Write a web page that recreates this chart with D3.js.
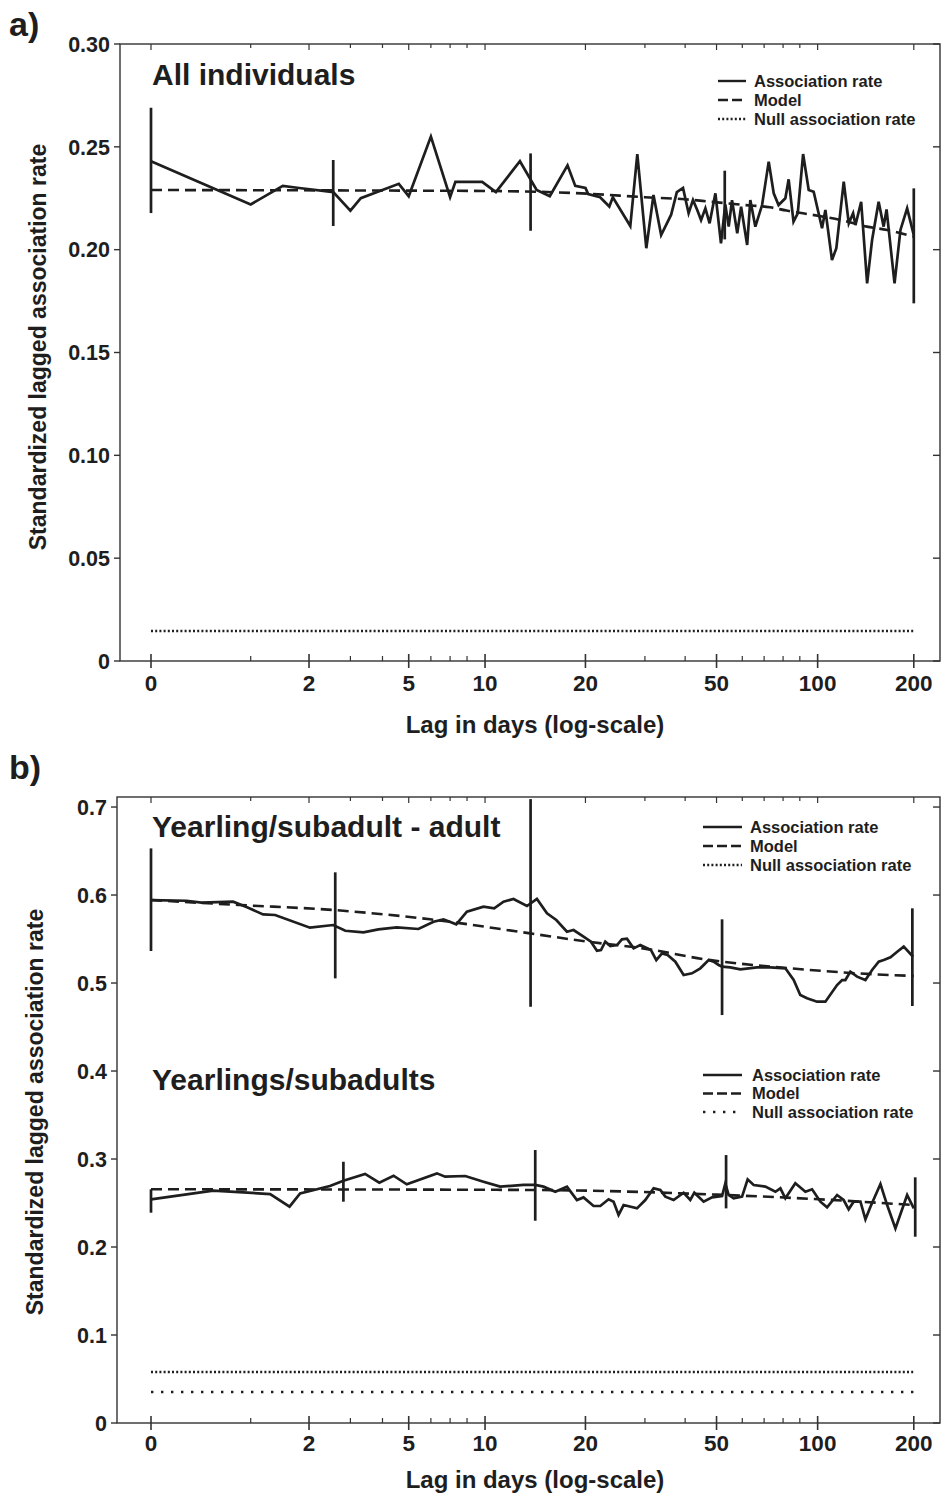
<!DOCTYPE html>
<html><head><meta charset="utf-8">
<script src="https://cdn.jsdelivr.net/npm/d3@7"></script>
<style>
body{margin:0;background:#fff}
svg{display:block}
text{font-family:'Liberation Sans',Arial,sans-serif;font-weight:bold;fill:#1e1e1e}
</style>
</head><body>
<svg id="c" width="942" height="1496"></svg>
<script>
// ---------- x axis (lag in days, log-scale) ----------
const xTickLabels = ["0","2","5","10","20","50","100","200"];
const xTickLags   = [0, 2, 5, 9.2, 19.5, 50, 102, 200];
const xMinorLags  = [1, 3, 4, 6, 7, 8, 30, 40, 60, 70, 80, 90];

// ---------- panel a: All individuals ----------
const allLag = [0,1,1.5,1.8,2.55,3,3.3,4.6,5,6,7,7.3,9,10,12,13.6,15,17.1,18.1,19.5,19.9,21.7,23.2,23.8,27,28.4,30.3,31.9,33.7,36.2,37.7,39.4,41,42.3,43.6,44.8,46.2,47.6,49.6,51.6,53.2,54.5,55.8,57.9,59.5,62.1,63.5,65.8,69,72.3,74.9,77.5,81.3,83.2,86.1,88.7,92.1,95.8,99.2,105.2,107.7,112.8,116.3,122.5,126.9,130.8,133,138.4,144.3,149.4,156.4,162,165.3,174.8,182.2,190.9,200];
const allRate = [0.243,0.222,0.231,0.230,0.228,0.219,0.225,0.232,0.226,0.255,0.2255,0.233,0.233,0.228,0.243,0.229,0.226,0.241,0.231,0.230,0.227,0.2255,0.221,0.2255,0.2115,0.2465,0.2007,0.2266,0.2071,0.217,0.228,0.230,0.2177,0.2241,0.2193,0.2144,0.2201,0.2128,0.2274,0.2031,0.222,0.2112,0.2241,0.2080,0.2209,0.2023,0.2241,0.2112,0.2217,0.2428,0.2274,0.2217,0.2250,0.2342,0.2136,0.2177,0.2465,0.2290,0.2282,0.2104,0.2193,0.1950,0.2007,0.2331,0.2128,0.2177,0.2120,0.2233,0.1836,0.2047,0.2233,0.2112,0.2196,0.1836,0.2096,0.2201,0.2071];
const allModelLag  = [0,5,10,20,30,40,48,61,73,82,92,120,144,166,200];
const allModelRate = [0.229,0.2287,0.2285,0.2272,0.2255,0.2245,0.2233,0.2217,0.2206,0.2190,0.2177,0.2144,0.2112,0.2096,0.2063];
const allErrLag  = [0,2.55,13,53,200];
const allErrLow  = [0.2178,0.2115,0.2092,0.2050,0.1739];
const allErrHigh = [0.269,0.2436,0.2468,0.2384,0.2298];
const allNull = 0.0146;

// ---------- panel b: Yearling/subadult - adult ----------
const upLag = [0,0.28,0.42,0.77,0.95,1.18,1.37,2.02,2.55,2.86,3.38,3.86,4.52,5.42,6.13,6.64,7.35,7.99,9.09,9.87,10.6,11.43,12.65,13.63,14.69,15.74,17.03,17.87,19.23,20.3,21.21,21.84,22.53,23.37,24.53,25.42,26.36,27.65,29.02,31.33,32.55,33.91,35.29,37.3,39.57,42.0,44.57,47.28,48.99,50.76,52.0,55.14,59.19,66.6,73.15,81.3,86.2,90.3,94.7,101.6,107.7,116.9,121.1,123.9,128.3,134.5,142.6,149.4,156.5,162.1,169.9,178.1,186.4,199];
const upRate = [0.5943,0.5935,0.5913,0.5924,0.5860,0.5780,0.5773,0.5629,0.5659,0.5594,0.5576,0.5610,0.5633,0.5614,0.5697,0.5724,0.5667,0.5810,0.5867,0.5848,0.5924,0.5955,0.5875,0.5955,0.5792,0.5716,0.5583,0.5602,0.5526,0.5470,0.5367,0.5375,0.5470,0.5420,0.5432,0.5497,0.5503,0.5394,0.5432,0.5375,0.5261,0.5337,0.5318,0.5242,0.5091,0.5110,0.5167,0.5261,0.5242,0.5205,0.5186,0.5178,0.5155,0.5178,0.5178,0.5167,0.5034,0.4864,0.4826,0.4788,0.4788,0.4977,0.5034,0.5034,0.5129,0.5072,0.5034,0.5148,0.5242,0.5261,0.5292,0.5356,0.5413,0.5299];
const upModelLag  = [0,0.86,2.55,5.96,12.96,19.8,29.6,47.9,52.4,84.2,134.8,200];
const upModelRate = [0.5943,0.5886,0.5830,0.5724,0.5564,0.547,0.5394,0.526,0.5242,0.5167,0.511,0.508];
const upErrLag  = [0,2.6,13,52,198];
const upErrLow  = [0.5364,0.5053,0.473,0.4636,0.4739];
const upErrHigh = [0.653,0.6258,0.709,0.5724,0.5849];
const upNull = 0.058;

// ---------- panel b: Yearlings/subadults ----------
const loLag = [0,0.54,1.29,1.62,1.82,2.47,2.81,3.43,3.89,4.40,4.92,6.30,6.73,7.89,9.09,10.33,12.33,13.46,14.32,15.62,17.03,18.32,19.23,20.69,21.73,23.08,23.93,24.81,25.73,28.34,30.08,31.93,33.5,34.73,36.84,39.57,41.5,42.7,45.63,48.43,52.0,53.22,54.48,56.44,59.9,62.32,65.02,70.6,75.8,78.5,81.3,87.2,93.6,98.1,104,109,116.9,122.4,126.8,131.3,137.7,142.6,147.7,158.4,166,175.9,190.9,200];
const loRate = [0.2542,0.264,0.2602,0.2458,0.261,0.2693,0.2753,0.2830,0.2731,0.2810,0.2712,0.2837,0.2799,0.2807,0.2742,0.2686,0.2705,0.2705,0.2686,0.2628,0.2686,0.2534,0.2564,0.2466,0.2466,0.2542,0.2515,0.2364,0.2477,0.2439,0.2534,0.2667,0.2648,0.2572,0.2534,0.2617,0.2534,0.2617,0.2515,0.2564,0.2580,0.2724,0.2591,0.2553,0.2572,0.2769,0.2705,0.2686,0.2628,0.2667,0.2553,0.2724,0.2628,0.2656,0.2515,0.2451,0.2591,0.2534,0.2428,0.2515,0.2515,0.2315,0.2458,0.2716,0.2477,0.2212,0.2591,0.2439];
const loModelLag  = [0,10,20,50,100,200];
const loModelRate = [0.2656,0.265,0.264,0.2595,0.2545,0.2477];
const loErrLag  = [0,2.81,13.46,53.5,202];
const loErrLow  = [0.239,0.2515,0.2299,0.2439,0.2117];
const loErrHigh = [0.2656,0.2969,0.3102,0.3045,0.2792];
const loNull = 0.0352;

const aTicks = [0,0.05,0.10,0.15,0.20,0.25,0.30];
const bTicks = [0,0.1,0.2,0.3,0.4,0.5,0.6,0.7];
const legendLabels = ["Association rate","Model","Null association rate"];

// ---------- drawing ----------
const svg = d3.select('#c');
const INK = '#1e1e1e';
const x = d3.scaleSymlog().constant(1).domain([0,200]).range([151, 913.8]);
const zip = (a,b) => a.map((d,i)=>[d,b[i]]);

function drawPanel(p){
  const y = d3.scaleLinear().domain(p.yDomain).range([p.bottom, p.top]);
  const g = svg.append('g');
  g.append('rect').attr('x',p.left).attr('y',p.top).attr('width',p.right-p.left).attr('height',p.bottom-p.top)
    .attr('fill','none').attr('stroke','#333').attr('stroke-width',1.4);
  p.yTicks.forEach(t=>{
    g.append('line').attr('x1',p.left-6).attr('x2',p.left).attr('y1',y(t)).attr('y2',y(t)).attr('stroke','#333').attr('stroke-width',1.4);
    g.append('line').attr('x1',p.right-7).attr('x2',p.right).attr('y1',y(t)).attr('y2',y(t)).attr('stroke','#333').attr('stroke-width',1.4);
    g.append('text').attr('x',p.left-10).attr('y',y(t)).attr('dy','0.36em')
      .attr('text-anchor','end').attr('font-size',21.5).text(t===0?'0':p.fmt(t));
  });
  xTickLags.forEach((t,i)=>{
    const xx = x(t);
    g.append('line').attr('x1',xx).attr('x2',xx).attr('y1',p.bottom-7).attr('y2',p.bottom+7).attr('stroke','#333').attr('stroke-width',1.6);
    g.append('line').attr('x1',xx).attr('x2',xx).attr('y1',p.top).attr('y2',p.top+6).attr('stroke','#333').attr('stroke-width',1.2);
    g.append('text').attr('x',xx).attr('y',p.bottom+p.tickLabOff).attr('text-anchor','middle')
      .attr('font-size',22.5).text(xTickLabels[i]);
  });
  xMinorLags.forEach(t=>{
    const xx = x(t);
    g.append('line').attr('x1',xx).attr('x2',xx).attr('y1',p.bottom-5).attr('y2',p.bottom).attr('stroke','#333').attr('stroke-width',1.2);
    g.append('line').attr('x1',xx).attr('x2',xx).attr('y1',p.top).attr('y2',p.top+4).attr('stroke','#333').attr('stroke-width',1.2);
  });
  g.append('text').attr('x',535).attr('y',p.bottom+p.titleOff).attr('text-anchor','middle')
    .attr('font-size',24).text('Lag in days (log-scale)');
  g.append('text').attr('transform',`translate(${p.yTitleX},${p.yTitleY}) rotate(-90)`).attr('text-anchor','middle')
    .attr('font-size',23).text('Standardized lagged association rate');
  g.append('text').attr('x',9).attr('y',p.letterY).attr('font-size',34).text(p.letter);

  const line = d3.line().x(d=>x(d[0])).y(d=>y(d[1]));
  const smooth = d3.line().x(d=>x(d[0])).y(d=>y(d[1])).curve(d3.curveMonotoneX);

  p.series.forEach(s=>{
    g.append('line').attr('x1',x(0)).attr('x2',x(200)).attr('y1',y(s.nul)).attr('y2',y(s.nul))
      .attr('stroke',INK).attr('stroke-width',2.6).attr('stroke-dasharray',s.nullDash);
    g.append('path').datum(zip(s.mLag,s.mRate)).attr('d',smooth).attr('fill','none')
      .attr('stroke',INK).attr('stroke-width',2.6).attr('stroke-dasharray','11,6');
    g.append('path').datum(zip(s.lag,s.rate)).attr('d',line).attr('fill','none')
      .attr('stroke',INK).attr('stroke-width',2.7).attr('stroke-linejoin','miter');
    s.eLag.forEach((l,i)=>{
      g.append('line').attr('x1',x(l)).attr('x2',x(l)).attr('y1',y(s.eLow[i])).attr('y2',y(s.eHigh[i]))
        .attr('stroke',INK).attr('stroke-width',2.7);
    });
    g.append('text').attr('x',152).attr('y',s.titleY).attr('font-size',30).text(s.title);
    const lg = g.append('g');
    legendLabels.forEach((lab,i)=>{
      const yy = s.legY + i*s.legStep;
      const dash = i===0 ? null : (i===1 ? '10,4' : s.legNullDash);
      lg.append('line').attr('x1',s.legX1).attr('x2',s.legX2).attr('y1',yy).attr('y2',yy)
        .attr('stroke',INK).attr('stroke-width',2.4).attr('stroke-dasharray',dash);
      lg.append('text').attr('x',s.legText).attr('y',yy).attr('dy','0.36em').attr('font-size',16.5).text(lab);
    });
  });
}

drawPanel({
  left:120,right:940,top:44,bottom:661,yDomain:[0,0.3],yTicks:aTicks,fmt:d3.format('.2f'),
  yTitleX:46,yTitleY:347,letter:'a)',letterY:36,tickLabOff:30,titleOff:72,
  series:[{lag:allLag,rate:allRate,mLag:allModelLag,mRate:allModelRate,eLag:allErrLag,eLow:allErrLow,eHigh:allErrHigh,
    nul:allNull,nullDash:'2,2.2',title:'All individuals',titleY:85,
    legX1:718,legX2:746,legText:754,legY:81,legStep:19,legNullDash:'2,2.2'}]
});
drawPanel({
  left:117,right:940,top:797,bottom:1423,yDomain:[0,0.7114],yTicks:bTicks,fmt:d3.format('.1f'),
  yTitleX:43,yTitleY:1112,letter:'b)',letterY:779,tickLabOff:28,titleOff:65,
  series:[
    {lag:upLag,rate:upRate,mLag:upModelLag,mRate:upModelRate,eLag:upErrLag,eLow:upErrLow,eHigh:upErrHigh,
     nul:upNull,nullDash:'2,2.2',title:'Yearling/subadult - adult',titleY:837,
     legX1:703,legX2:742,legText:750,legY:827,legStep:19,legNullDash:'2,2.2'},
    {lag:loLag,rate:loRate,mLag:loModelLag,mRate:loModelRate,eLag:loErrLag,eLow:loErrLow,eHigh:loErrHigh,
     nul:loNull,nullDash:'2.4,7.6',title:'Yearlings/subadults',titleY:1090,
     legX1:703,legX2:742,legText:752,legY:1075,legStep:18.5,legNullDash:'2.4,7.6'}
  ]
});
</script>
</body></html>
